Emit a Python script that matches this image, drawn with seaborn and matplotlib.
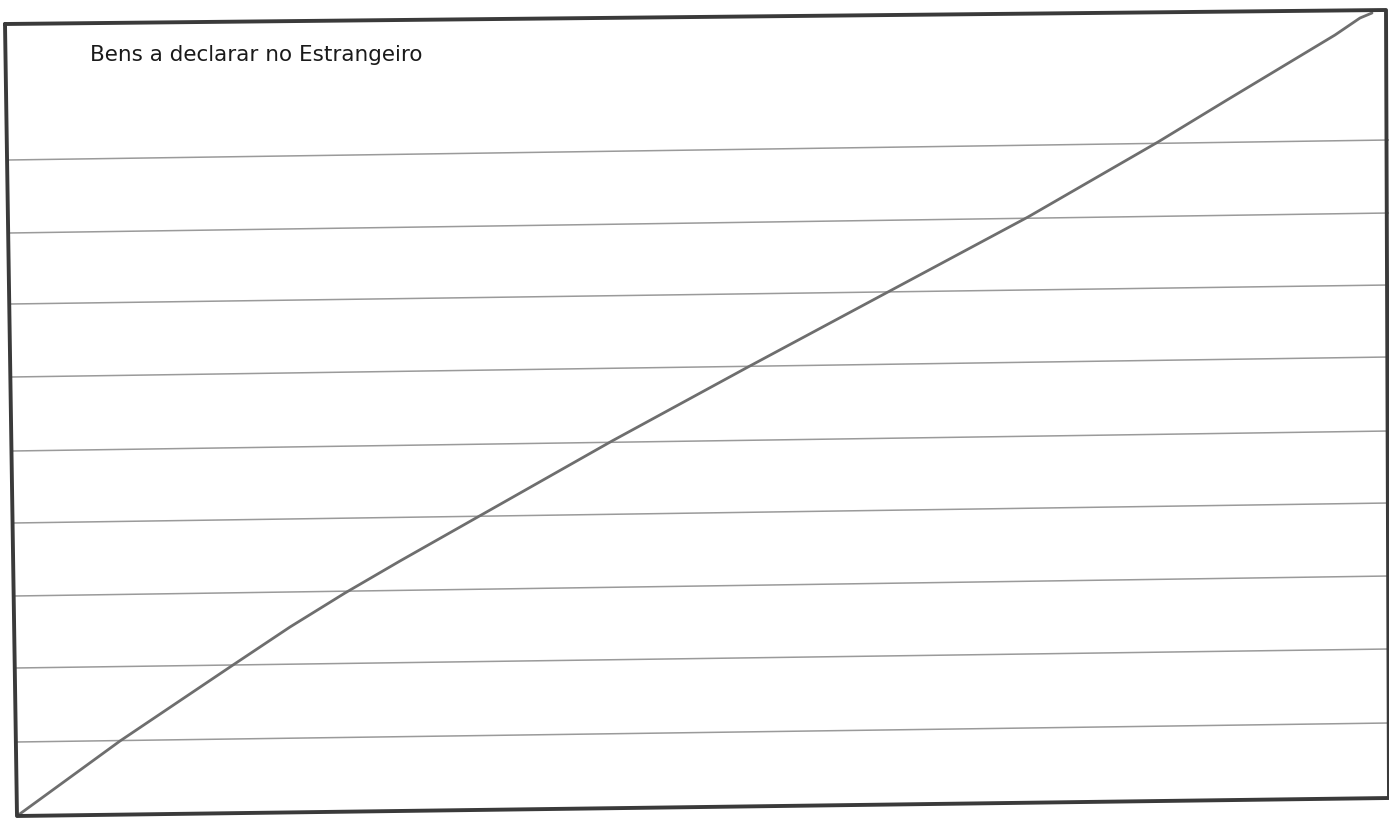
import matplotlib
matplotlib.use('Agg')
import numpy as np
import pandas as pd
import matplotlib.pyplot as plt
import seaborn as sns

# scanned form, coordinates (pixels, y down)
title = 'Bens a declarar no Estrangeiro'

# outer box corners: top-left, top-right, bottom-right, bottom-left
box_x = [5, 1386, 1389, 17, 5]
box_y = [24, 10, 798, 816, 24]

# ruled lines: left end / right end heights
rule_left_x = [8, 9, 10, 11, 12, 13, 14, 15, 16]
rule_left_y = [160, 233, 304, 377, 451, 523, 596, 668, 742]
rule_right_x = 1389
rule_right_y = [140, 213, 285, 357, 431, 503, 576, 649, 723]

# hand drawn diagonal
diag_x = [17, 120, 233, 290, 345, 400, 612, 748, 873, 1028, 1158, 1227, 1335, 1360, 1372]
diag_y = [816, 741, 665, 627, 593, 561, 441, 367, 300, 217, 142, 100, 35, 18, 13]


def main():
    sns.set_style('white')
    plt.rcParams['font.family'] = ['DejaVu Sans']

    fig = plt.figure(figsize=(13.89, 8.24), dpi=100)
    ax = fig.add_axes([0, 0, 1, 1])

    rows = []
    for i in range(len(rule_left_y)):
        rows.append({'id': i, 'x': rule_left_x[i], 'y': rule_left_y[i]})
        rows.append({'id': i, 'x': rule_right_x, 'y': rule_right_y[i]})
    rules = pd.DataFrame(rows)
    sns.lineplot(data=rules, x='x', y='y', units='id', estimator=None,
                 sort=False, color='#9a9a9a', linewidth=1.1, ax=ax)

    diag = pd.DataFrame({'x': diag_x, 'y': diag_y})
    sns.lineplot(data=diag, x='x', y='y', sort=False, estimator=None,
                 color='#6e6e6e', linewidth=2.0, ax=ax)

    box = pd.DataFrame({'x': box_x, 'y': box_y})
    sns.lineplot(data=box, x='x', y='y', sort=False, estimator=None,
                 color='#3a3a3a', linewidth=2.8, ax=ax)

    ax.text(90, 61, title, fontsize=15.5, color='#1a1a1a', ha='left', va='baseline')

    ax.set_xlim(0, 1389)
    ax.set_ylim(824, 0)
    ax.axis('off')
    fig.savefig('out.png', dpi=100, facecolor='white')


if __name__ == "__main__":
    main()
